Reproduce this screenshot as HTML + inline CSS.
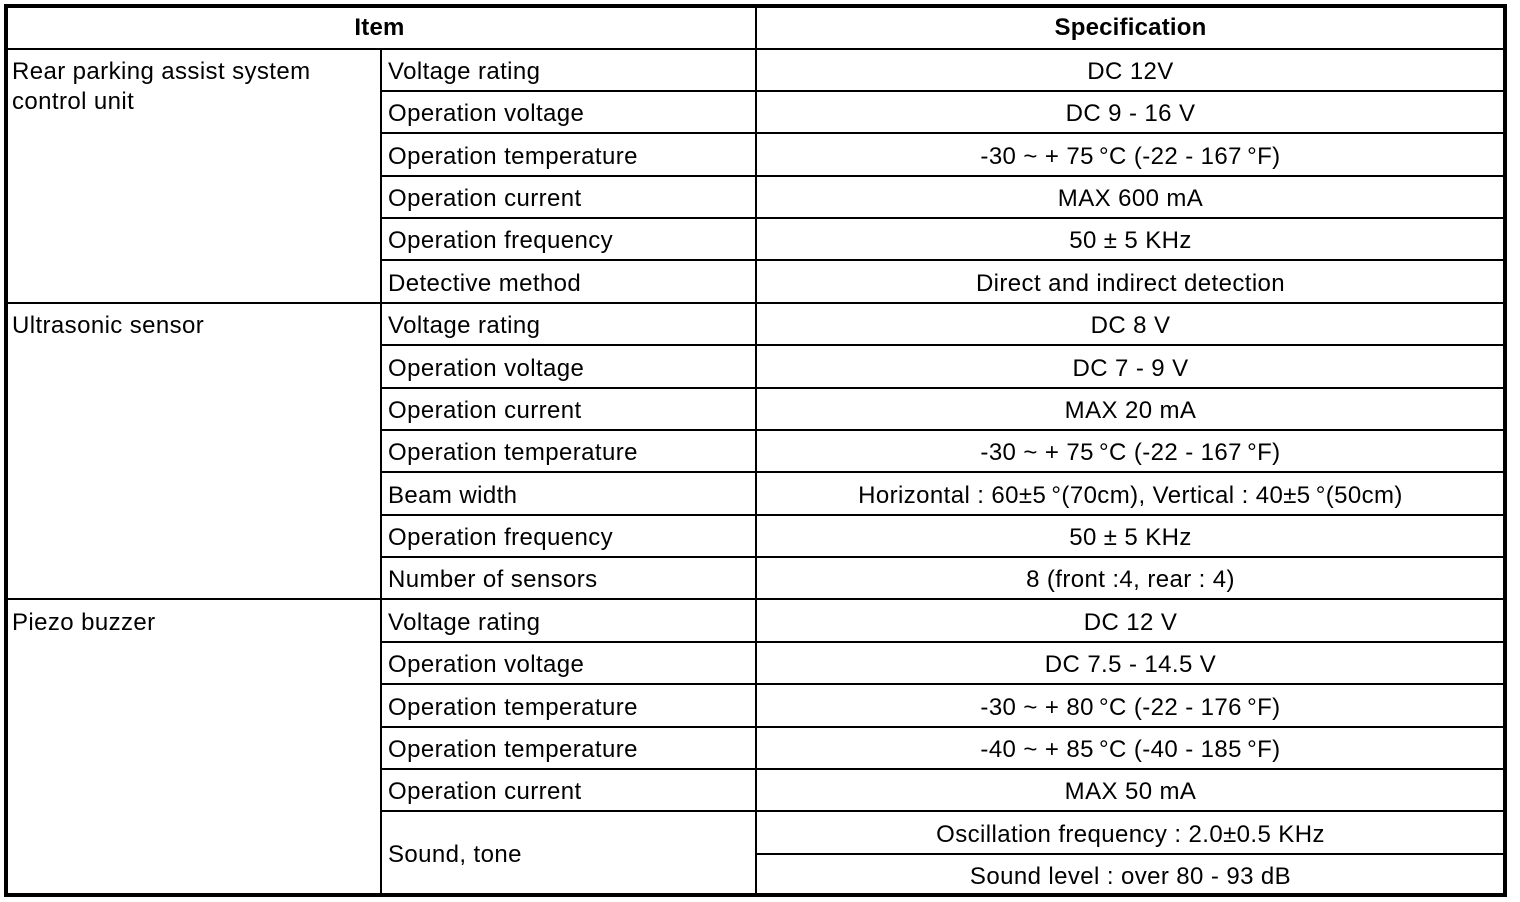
<!DOCTYPE html>
<html>
<head>
<meta charset="utf-8">
<style>
  html, body { margin: 0; padding: 0; background: #fff; }
  #c { position: relative; width: 1520px; height: 902px; overflow: hidden; background: #fff;
       font-family: "Liberation Sans", Arial, Helvetica, sans-serif; font-size: 24px; color: #000; }
  .frame { position: absolute; left: 4px; top: 4px; width: 1503px; height: 893px; box-sizing: border-box; border: 4px solid #000; }
  .h { position: absolute; height: 2px; background: #000; }
  .v { position: absolute; width: 2px; background: #000; }
  .t { position: absolute; line-height: 24px; white-space: nowrap; letter-spacing: 0.4px; }
  .c2 { left: 388px; }
  .c1 { left: 12px; }
  .c3 { left: 757px; width: 747px; text-align: center; }
  .b { font-weight: bold; letter-spacing: 0.2px; }
</style>
</head>
<body>
<div id="c">
  <div class="frame"></div>

  <!-- vertical lines -->
  <div class="v" style="left:755px; top:4px; height:893px;"></div>
  <div class="v" style="left:380px; top:48px; height:849px;"></div>

  <!-- full-width horizontal lines -->
  <div class="h" style="left:4px; width:1503px; top:48px;"></div>
  <div class="h" style="left:4px; width:1503px; top:302px;"></div>
  <div class="h" style="left:4px; width:1503px; top:598px;"></div>

  <!-- partial horizontal lines -->
  <div class="h" style="left:380px; width:1127px; top:90px;"></div>
  <div class="h" style="left:380px; width:1127px; top:132px;"></div>
  <div class="h" style="left:380px; width:1127px; top:175px;"></div>
  <div class="h" style="left:380px; width:1127px; top:217px;"></div>
  <div class="h" style="left:380px; width:1127px; top:259px;"></div>
  <div class="h" style="left:380px; width:1127px; top:344px;"></div>
  <div class="h" style="left:380px; width:1127px; top:387px;"></div>
  <div class="h" style="left:380px; width:1127px; top:429px;"></div>
  <div class="h" style="left:380px; width:1127px; top:471px;"></div>
  <div class="h" style="left:380px; width:1127px; top:514px;"></div>
  <div class="h" style="left:380px; width:1127px; top:556px;"></div>
  <div class="h" style="left:380px; width:1127px; top:641px;"></div>
  <div class="h" style="left:380px; width:1127px; top:683px;"></div>
  <div class="h" style="left:380px; width:1127px; top:726px;"></div>
  <div class="h" style="left:380px; width:1127px; top:768px;"></div>
  <div class="h" style="left:380px; width:1127px; top:810px;"></div>
  <div class="h" style="left:755px; width:752px; top:853px;"></div>

  <!-- header -->
  <div class="t b" style="left:6px; width:747px; text-align:center; top:16px;">Item</div>
  <div class="t b c3" style="top:16px;">Specification</div>

  <!-- column 1 -->
  <div class="t c1" style="top:60px;">Rear parking assist system</div>
  <div class="t c1" style="top:90px;">control unit</div>
  <div class="t c1" style="top:314px;">Ultrasonic sensor</div>
  <div class="t c1" style="top:611px;">Piezo buzzer</div>

  <!-- column 2 -->
  <div class="t c2" style="top:60px;">Voltage rating</div>
  <div class="t c2" style="top:102px;">Operation voltage</div>
  <div class="t c2" style="top:145px;">Operation temperature</div>
  <div class="t c2" style="top:187px;">Operation current</div>
  <div class="t c2" style="top:229px;">Operation frequency</div>
  <div class="t c2" style="top:272px;">Detective method</div>
  <div class="t c2" style="top:314px;">Voltage rating</div>
  <div class="t c2" style="top:357px;">Operation voltage</div>
  <div class="t c2" style="top:399px;">Operation current</div>
  <div class="t c2" style="top:441px;">Operation temperature</div>
  <div class="t c2" style="top:484px;">Beam width</div>
  <div class="t c2" style="top:526px;">Operation frequency</div>
  <div class="t c2" style="top:568px;">Number of sensors</div>
  <div class="t c2" style="top:611px;">Voltage rating</div>
  <div class="t c2" style="top:653px;">Operation voltage</div>
  <div class="t c2" style="top:696px;">Operation temperature</div>
  <div class="t c2" style="top:738px;">Operation temperature</div>
  <div class="t c2" style="top:780px;">Operation current</div>
  <div class="t c2" style="top:843px;">Sound, tone</div>

  <!-- column 3 -->
  <div class="t c3" style="top:60px;">DC 12V</div>
  <div class="t c3" style="top:102px;">DC 9 - 16 V</div>
  <div class="t c3" style="top:145px;">-30 ~ + 75&#8201;°C (-22 - 167&#8201;°F)</div>
  <div class="t c3" style="top:187px;">MAX 600 mA</div>
  <div class="t c3" style="top:229px;">50 ± 5 KHz</div>
  <div class="t c3" style="top:272px;">Direct and indirect detection</div>
  <div class="t c3" style="top:314px;">DC 8 V</div>
  <div class="t c3" style="top:357px;">DC 7 - 9 V</div>
  <div class="t c3" style="top:399px;">MAX 20 mA</div>
  <div class="t c3" style="top:441px;">-30 ~ + 75&#8201;°C (-22 - 167&#8201;°F)</div>
  <div class="t c3" style="top:484px;">Horizontal : 60±5&#8201;°(70cm), Vertical : 40±5&#8201;°(50cm)</div>
  <div class="t c3" style="top:526px;">50 ± 5 KHz</div>
  <div class="t c3" style="top:568px;">8 (front :4, rear : 4)</div>
  <div class="t c3" style="top:611px;">DC 12 V</div>
  <div class="t c3" style="top:653px;">DC 7.5 - 14.5 V</div>
  <div class="t c3" style="top:696px;">-30 ~ + 80&#8201;°C (-22 - 176&#8201;°F)</div>
  <div class="t c3" style="top:738px;">-40 ~ + 85&#8201;°C (-40 - 185&#8201;°F)</div>
  <div class="t c3" style="top:780px;">MAX 50 mA</div>
  <div class="t c3" style="top:823px;">Oscillation frequency : 2.0±0.5 KHz</div>
  <div class="t c3" style="top:865px;">Sound level : over 80 - 93 dB</div>
</div>
</body>
</html>
